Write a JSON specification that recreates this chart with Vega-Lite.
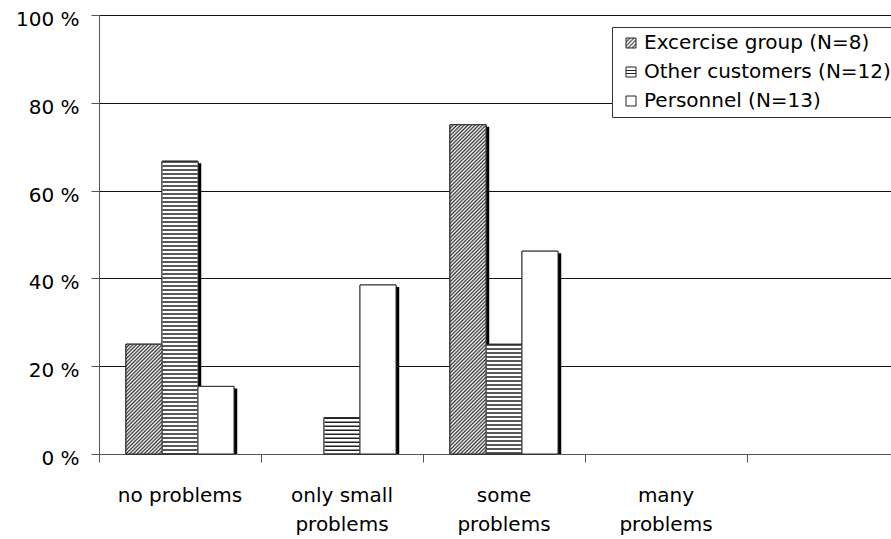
{
  "$schema": "https://vega.github.io/schema/vega-lite/v6.json",
  "width": 792,
  "height": 439,
  "autosize": {"type": "none"},
  "padding": {"left": 99, "top": 15, "right": 0, "bottom": 85},
  "background": "#ffffff",
  "config": {
    "view": {"stroke": null},
    "font": "DejaVu Sans",
    "axis": {"labelFont": "DejaVu Sans", "labelFontSize": 20, "labelColor": "#000", "title": null, "domainColor": "#555", "tickColor": "#555", "tickSize": 8}
  },
  "resolve": {"scale": {"xOffset": "independent"}},
  "data": {
    "values": [
      {"answer": "no problems", "group": "Excercise group (N=8)", "pct": 25},
      {"answer": "only small problems", "group": "Excercise group (N=8)", "pct": 0},
      {"answer": "some problems", "group": "Excercise group (N=8)", "pct": 75},
      {"answer": "many problems", "group": "Excercise group (N=8)", "pct": 0},
      {"answer": "no problems", "group": "Other customers (N=12)", "pct": 66.7},
      {"answer": "only small problems", "group": "Other customers (N=12)", "pct": 8.3},
      {"answer": "some problems", "group": "Other customers (N=12)", "pct": 25},
      {"answer": "many problems", "group": "Other customers (N=12)", "pct": 0},
      {"answer": "no problems", "group": "Personnel (N=13)", "pct": 15.4},
      {"answer": "only small problems", "group": "Personnel (N=13)", "pct": 38.5},
      {"answer": "some problems", "group": "Personnel (N=13)", "pct": 46.2},
      {"answer": "many problems", "group": "Personnel (N=13)", "pct": 0}
    ]
  },
  "encoding": {
    "x": {
      "field": "answer", "type": "nominal",
      "scale": {"domain": ["no problems", "only small problems", "some problems", "many problems", ""], "range": [0, 810], "paddingInner": 0, "paddingOuter": 0},
      "axis": {
        "bandPosition": 0, "labelAngle": 0, "labelPadding": 23, "labelLineHeight": 29, "labelBaseline": "top", "grid": false, "labelLimit": 300,
        "labelExpr": "datum.label == 'only small problems' ? ['only small', 'problems'] : datum.label == 'some problems' ? ['some', 'problems'] : datum.label == 'many problems' ? ['many', 'problems'] : datum.label"
      }
    },
    "xOffset": {
      "field": "group", "type": "nominal",
      "scale": {"domain": ["Excercise group (N=8)", "Other customers (N=12)", "Personnel (N=13)"], "paddingInner": 0, "paddingOuter": 0.75}
    },
    "y": {
      "field": "pct", "type": "quantitative", "stack": null,
      "scale": {"domain": [0, 100], "nice": false},
      "axis": {"values": [0, 20, 40, 60, 80, 100], "labelExpr": "datum.value + ' %'", "labelPadding": 12, "labelOffset": 4.5, "grid": true, "gridColor": "#111", "gridWidth": 1}
    }
  },
  "layer": [
    {
      "transform": [{"filter": "datum.pct > 0"}],
      "mark": {"type": "bar", "stroke": "#222", "strokeWidth": 1},
      "encoding": {
        "color": {
          "field": "group", "type": "nominal",
          "scale": {
            "domain": ["Excercise group (N=8)", "Other customers (N=12)", "Personnel (N=13)"],
            "range": [
              {"expr": "{gradient: 'linear', x1: 0, y1: 0, x2: 1, y2: 1, stops: [{offset: 0, color: '#666'}, {offset: 0.1, color: '#fff'}, {offset: 0.2, color: '#666'}, {offset: 0.3, color: '#fff'}, {offset: 0.4, color: '#666'}, {offset: 0.5, color: '#fff'}, {offset: 0.6, color: '#666'}, {offset: 0.7, color: '#fff'}, {offset: 0.8, color: '#666'}, {offset: 0.9, color: '#fff'}, {offset: 1, color: '#666'}]}"},
              {"expr": "{gradient: 'linear', x1: 0, y1: 0, x2: 0, y2: 1, stops: [{offset: 0, color: '#fff'}, {offset: 0.28, color: '#fff'}, {offset: 0.28, color: '#222'}, {offset: 0.4, color: '#222'}, {offset: 0.4, color: '#fff'}, {offset: 0.6, color: '#fff'}, {offset: 0.6, color: '#222'}, {offset: 0.72, color: '#222'}, {offset: 0.72, color: '#fff'}, {offset: 1, color: '#fff'}]}"},
              "#fff"
            ]
          },
          "legend": {
            "title": null, "orient": "none", "legendX": 513, "legendY": 12, "direction": "vertical",
            "fillColor": "#fff", "strokeColor": "#333", "padding": 6,
            "symbolType": "square", "symbolSize": 100, "symbolOffset": 3, "symbolStrokeColor": "#222", "symbolStrokeWidth": 1,
            "labelFont": "DejaVu Sans", "labelFontSize": 20, "labelColor": "#000", "labelOffset": 3, "labelLimit": 400, "rowPadding": 9,
            "encoding": {
              "symbols": {
                "stroke": {"value": "#222"},
                "strokeWidth": {"value": 1},
                "opacity": {"value": 1}
              }
            }
          }
        }
      }
    },
    {
      "transform": [{"filter": "datum.pct > 0"}],
      "mark": {"type": "bar", "fill": "#000", "yOffset": 2},
      "encoding": {
        "y2": {"datum": 0},
        "xOffset": {
          "field": "group", "type": "nominal",
          "scale": {"domain": ["Excercise group (N=8)", "Other customers (N=12)", "Personnel (N=13)"], "paddingInner": 0, "paddingOuter": 0.75, "align": 0.56}
        }
      }
    },
    {
      "transform": [{"filter": "datum.pct > 0"}],
      "mark": {"type": "bar", "fill": "#fff", "stroke": "#333", "strokeWidth": 1}
    },
    {
      "transform": [{"filter": "datum.group === 'Other customers (N=12)' && datum.pct > 0"}],
      "mark": {"type": "rule", "stroke": "#222", "strokeWidth": 35, "strokeDash": [1.5, 2.5], "strokeCap": "butt"},
      "encoding": {"y2": {"datum": 0}}
    },
    {
      "transform": [{"filter": "datum.group === 'Excercise group (N=8)' && datum.answer === 'no problems'"}],
      "mark": {
        "type": "bar", "stroke": "#333", "strokeWidth": 1,
        "fill": {"gradient": "linear", "x1": 0, "y1": 0, "x2": 0.9856, "y2": 3.0047, "stops": [
          {"offset":0,"color":"#333"},{"offset":0.005,"color":"#fff"},{"offset":0.01,"color":"#333"},{"offset":0.015,"color":"#fff"},{"offset":0.02,"color":"#333"},{"offset":0.025,"color":"#fff"},{"offset":0.03,"color":"#333"},{"offset":0.035,"color":"#fff"},{"offset":0.04,"color":"#333"},{"offset":0.045,"color":"#fff"},
          {"offset":0.05,"color":"#333"},{"offset":0.055,"color":"#fff"},{"offset":0.06,"color":"#333"},{"offset":0.065,"color":"#fff"},{"offset":0.07,"color":"#333"},{"offset":0.075,"color":"#fff"},{"offset":0.08,"color":"#333"},{"offset":0.085,"color":"#fff"},{"offset":0.09,"color":"#333"},{"offset":0.095,"color":"#fff"},
          {"offset":0.1,"color":"#333"},{"offset":0.105,"color":"#fff"},{"offset":0.11,"color":"#333"},{"offset":0.115,"color":"#fff"},{"offset":0.12,"color":"#333"},{"offset":0.125,"color":"#fff"},{"offset":0.13,"color":"#333"},{"offset":0.135,"color":"#fff"},{"offset":0.14,"color":"#333"},{"offset":0.145,"color":"#fff"},
          {"offset":0.15,"color":"#333"},{"offset":0.155,"color":"#fff"},{"offset":0.16,"color":"#333"},{"offset":0.165,"color":"#fff"},{"offset":0.17,"color":"#333"},{"offset":0.175,"color":"#fff"},{"offset":0.18,"color":"#333"},{"offset":0.185,"color":"#fff"},{"offset":0.19,"color":"#333"},{"offset":0.195,"color":"#fff"},
          {"offset":0.2,"color":"#333"},{"offset":0.205,"color":"#fff"},{"offset":0.21,"color":"#333"},{"offset":0.215,"color":"#fff"},{"offset":0.22,"color":"#333"},{"offset":0.225,"color":"#fff"},{"offset":0.23,"color":"#333"},{"offset":0.235,"color":"#fff"},{"offset":0.24,"color":"#333"},{"offset":0.245,"color":"#fff"},
          {"offset":0.25,"color":"#333"},{"offset":0.255,"color":"#fff"},{"offset":0.26,"color":"#333"},{"offset":0.265,"color":"#fff"},{"offset":0.27,"color":"#333"},{"offset":0.275,"color":"#fff"},{"offset":0.28,"color":"#333"},{"offset":0.285,"color":"#fff"},{"offset":0.29,"color":"#333"},{"offset":0.295,"color":"#fff"},
          {"offset":0.3,"color":"#333"},{"offset":0.305,"color":"#fff"},{"offset":0.31,"color":"#333"},{"offset":0.315,"color":"#fff"},{"offset":0.32,"color":"#333"},{"offset":0.325,"color":"#fff"},{"offset":0.33,"color":"#333"},{"offset":0.335,"color":"#fff"},{"offset":0.34,"color":"#333"},{"offset":0.345,"color":"#fff"},
          {"offset":0.35,"color":"#333"},{"offset":0.355,"color":"#fff"},{"offset":0.36,"color":"#333"},{"offset":0.365,"color":"#fff"},{"offset":0.37,"color":"#333"},{"offset":0.375,"color":"#fff"},{"offset":0.38,"color":"#333"},{"offset":0.385,"color":"#fff"},{"offset":0.39,"color":"#333"},{"offset":0.395,"color":"#fff"},
          {"offset":0.4,"color":"#333"},{"offset":0.405,"color":"#fff"}
        ]}
      }
    },
    {
      "transform": [{"filter": "datum.group === 'Excercise group (N=8)' && datum.answer === 'some problems'"}],
      "mark": {
        "type": "bar", "stroke": "#333", "strokeWidth": 1,
        "fill": {"gradient": "linear", "x1": 0, "y1": 0, "x2": 0.1199, "y2": 1.0962, "stops": [
          {"offset":0,"color":"#333"},{"offset":0.005,"color":"#fff"},{"offset":0.01,"color":"#333"},{"offset":0.015,"color":"#fff"},{"offset":0.02,"color":"#333"},{"offset":0.025,"color":"#fff"},{"offset":0.03,"color":"#333"},{"offset":0.035,"color":"#fff"},{"offset":0.04,"color":"#333"},{"offset":0.045,"color":"#fff"},
          {"offset":0.05,"color":"#333"},{"offset":0.055,"color":"#fff"},{"offset":0.06,"color":"#333"},{"offset":0.065,"color":"#fff"},{"offset":0.07,"color":"#333"},{"offset":0.075,"color":"#fff"},{"offset":0.08,"color":"#333"},{"offset":0.085,"color":"#fff"},{"offset":0.09,"color":"#333"},{"offset":0.095,"color":"#fff"},
          {"offset":0.1,"color":"#333"},{"offset":0.105,"color":"#fff"},{"offset":0.11,"color":"#333"},{"offset":0.115,"color":"#fff"},{"offset":0.12,"color":"#333"},{"offset":0.125,"color":"#fff"},{"offset":0.13,"color":"#333"},{"offset":0.135,"color":"#fff"},{"offset":0.14,"color":"#333"},{"offset":0.145,"color":"#fff"},
          {"offset":0.15,"color":"#333"},{"offset":0.155,"color":"#fff"},{"offset":0.16,"color":"#333"},{"offset":0.165,"color":"#fff"},{"offset":0.17,"color":"#333"},{"offset":0.175,"color":"#fff"},{"offset":0.18,"color":"#333"},{"offset":0.185,"color":"#fff"},{"offset":0.19,"color":"#333"},{"offset":0.195,"color":"#fff"},
          {"offset":0.2,"color":"#333"},{"offset":0.205,"color":"#fff"},{"offset":0.21,"color":"#333"},{"offset":0.215,"color":"#fff"},{"offset":0.22,"color":"#333"},{"offset":0.225,"color":"#fff"},{"offset":0.23,"color":"#333"},{"offset":0.235,"color":"#fff"},{"offset":0.24,"color":"#333"},{"offset":0.245,"color":"#fff"},
          {"offset":0.25,"color":"#333"},{"offset":0.255,"color":"#fff"},{"offset":0.26,"color":"#333"},{"offset":0.265,"color":"#fff"},{"offset":0.27,"color":"#333"},{"offset":0.275,"color":"#fff"},{"offset":0.28,"color":"#333"},{"offset":0.285,"color":"#fff"},{"offset":0.29,"color":"#333"},{"offset":0.295,"color":"#fff"},
          {"offset":0.3,"color":"#333"},{"offset":0.305,"color":"#fff"},{"offset":0.31,"color":"#333"},{"offset":0.315,"color":"#fff"},{"offset":0.32,"color":"#333"},{"offset":0.325,"color":"#fff"},{"offset":0.33,"color":"#333"},{"offset":0.335,"color":"#fff"},{"offset":0.34,"color":"#333"},{"offset":0.345,"color":"#fff"},
          {"offset":0.35,"color":"#333"},{"offset":0.355,"color":"#fff"},{"offset":0.36,"color":"#333"},{"offset":0.365,"color":"#fff"},{"offset":0.37,"color":"#333"},{"offset":0.375,"color":"#fff"},{"offset":0.38,"color":"#333"},{"offset":0.385,"color":"#fff"},{"offset":0.39,"color":"#333"},{"offset":0.395,"color":"#fff"},
          {"offset":0.4,"color":"#333"},{"offset":0.405,"color":"#fff"},{"offset":0.41,"color":"#333"},{"offset":0.415,"color":"#fff"},{"offset":0.42,"color":"#333"},{"offset":0.425,"color":"#fff"},{"offset":0.43,"color":"#333"},{"offset":0.435,"color":"#fff"},{"offset":0.44,"color":"#333"},{"offset":0.445,"color":"#fff"},
          {"offset":0.45,"color":"#333"},{"offset":0.455,"color":"#fff"},{"offset":0.46,"color":"#333"},{"offset":0.465,"color":"#fff"},{"offset":0.47,"color":"#333"},{"offset":0.475,"color":"#fff"},{"offset":0.48,"color":"#333"},{"offset":0.485,"color":"#fff"},{"offset":0.49,"color":"#333"},{"offset":0.495,"color":"#fff"},
          {"offset":0.5,"color":"#333"},{"offset":0.505,"color":"#fff"},{"offset":0.51,"color":"#333"},{"offset":0.515,"color":"#fff"},{"offset":0.52,"color":"#333"},{"offset":0.525,"color":"#fff"},{"offset":0.53,"color":"#333"},{"offset":0.535,"color":"#fff"},{"offset":0.54,"color":"#333"},{"offset":0.545,"color":"#fff"},
          {"offset":0.55,"color":"#333"},{"offset":0.555,"color":"#fff"},{"offset":0.56,"color":"#333"},{"offset":0.565,"color":"#fff"},{"offset":0.57,"color":"#333"},{"offset":0.575,"color":"#fff"},{"offset":0.58,"color":"#333"},{"offset":0.585,"color":"#fff"},{"offset":0.59,"color":"#333"},{"offset":0.595,"color":"#fff"},
          {"offset":0.6,"color":"#333"},{"offset":0.605,"color":"#fff"},{"offset":0.61,"color":"#333"},{"offset":0.615,"color":"#fff"},{"offset":0.62,"color":"#333"},{"offset":0.625,"color":"#fff"},{"offset":0.63,"color":"#333"},{"offset":0.635,"color":"#fff"},{"offset":0.64,"color":"#333"},{"offset":0.645,"color":"#fff"},
          {"offset":0.65,"color":"#333"},{"offset":0.655,"color":"#fff"},{"offset":0.66,"color":"#333"},{"offset":0.665,"color":"#fff"},{"offset":0.67,"color":"#333"},{"offset":0.675,"color":"#fff"},{"offset":0.68,"color":"#333"},{"offset":0.685,"color":"#fff"},{"offset":0.69,"color":"#333"},{"offset":0.695,"color":"#fff"},
          {"offset":0.7,"color":"#333"},{"offset":0.705,"color":"#fff"},{"offset":0.71,"color":"#333"},{"offset":0.715,"color":"#fff"},{"offset":0.72,"color":"#333"},{"offset":0.725,"color":"#fff"},{"offset":0.73,"color":"#333"},{"offset":0.735,"color":"#fff"},{"offset":0.74,"color":"#333"},{"offset":0.745,"color":"#fff"},
          {"offset":0.75,"color":"#333"},{"offset":0.755,"color":"#fff"},{"offset":0.76,"color":"#333"},{"offset":0.765,"color":"#fff"},{"offset":0.77,"color":"#333"},{"offset":0.775,"color":"#fff"},{"offset":0.78,"color":"#333"},{"offset":0.785,"color":"#fff"},{"offset":0.79,"color":"#333"},{"offset":0.795,"color":"#fff"},
          {"offset":0.8,"color":"#333"},{"offset":0.805,"color":"#fff"},{"offset":0.81,"color":"#333"},{"offset":0.815,"color":"#fff"},{"offset":0.82,"color":"#333"},{"offset":0.825,"color":"#fff"},{"offset":0.83,"color":"#333"},{"offset":0.835,"color":"#fff"},{"offset":0.84,"color":"#333"},{"offset":0.845,"color":"#fff"},
          {"offset":0.85,"color":"#333"},{"offset":0.855,"color":"#fff"},{"offset":0.86,"color":"#333"},{"offset":0.865,"color":"#fff"},{"offset":0.87,"color":"#333"},{"offset":0.875,"color":"#fff"},{"offset":0.88,"color":"#333"},{"offset":0.885,"color":"#fff"},{"offset":0.89,"color":"#333"},{"offset":0.895,"color":"#fff"},
          {"offset":0.9,"color":"#333"},{"offset":0.905,"color":"#fff"},{"offset":0.91,"color":"#333"},{"offset":0.915,"color":"#fff"},{"offset":0.92,"color":"#333"},{"offset":0.925,"color":"#fff"},{"offset":0.93,"color":"#333"},{"offset":0.935,"color":"#fff"},{"offset":0.94,"color":"#333"},{"offset":0.945,"color":"#fff"},
          {"offset":0.95,"color":"#333"},{"offset":0.955,"color":"#fff"},{"offset":0.96,"color":"#333"},{"offset":0.965,"color":"#fff"},{"offset":0.97,"color":"#333"},{"offset":0.975,"color":"#fff"},{"offset":0.98,"color":"#333"},{"offset":0.985,"color":"#fff"},{"offset":0.99,"color":"#333"},{"offset":0.995,"color":"#fff"},
          {"offset":1,"color":"#333"}
        ]}
      }
    }
  ]
}
